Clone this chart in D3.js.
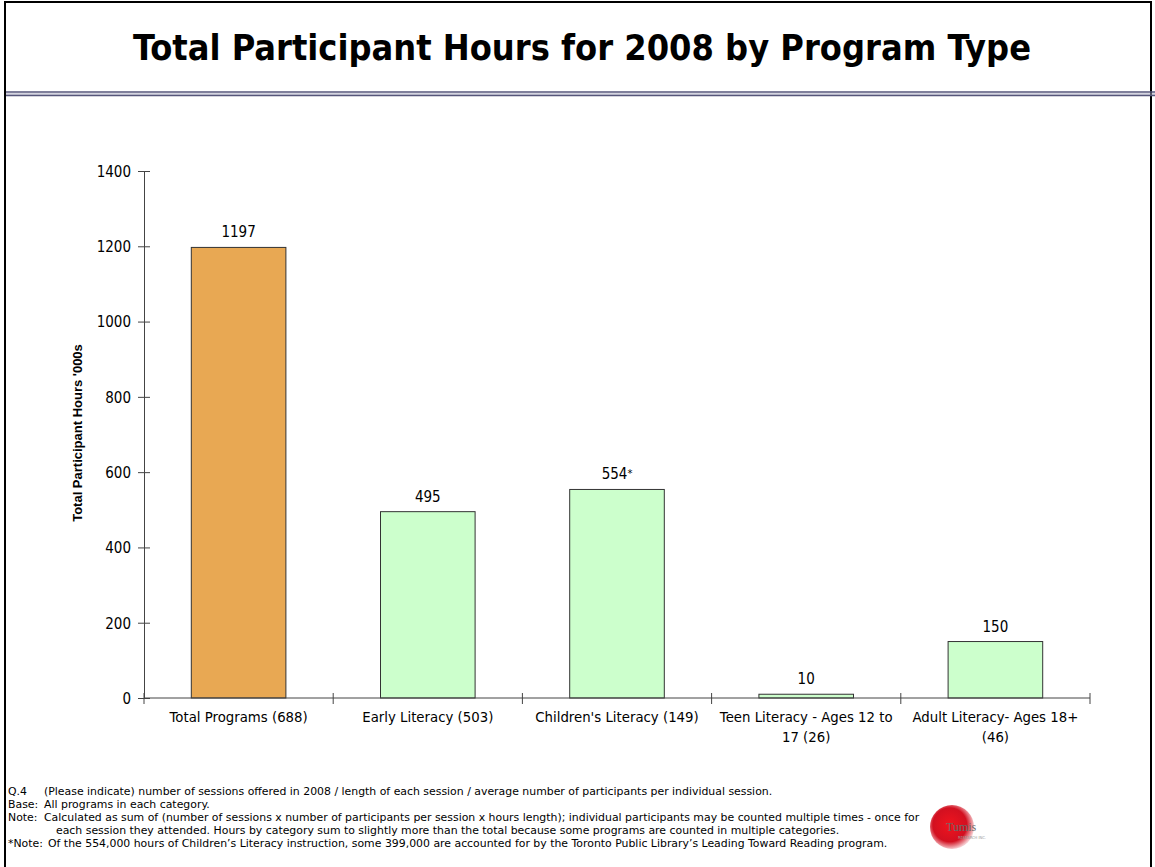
<!DOCTYPE html>
<html>
<head>
<meta charset="utf-8">
<script src="https://cdn.jsdelivr.net/npm/d3@7"></script>
<style>
  body { margin: 0; background: #fff; }
  text { font-family: "DejaVu Sans Condensed", "DejaVu Sans", sans-serif; }
</style>
</head>
<body>
<div id="vis"></div>
<script>
const categories = ['Total Programs (688)', 'Early Literacy (503)', "Children's Literacy (149)",
  'Teen Literacy - Ages 12 to|17 (26)', 'Adult Literacy-  Ages 18+|(46)'];
const values = [1197, 495, 554, 10, 150];
const valueLabels = ['1197', '495', '554', '10', '150'];
const valueMarks = ['', '', '*', '', ''];
const yTicks = [0, 200, 400, 600, 800, 1000, 1200, 1400];
const footLabels = ['Q.4', 'Base:', 'Note:', '', '*Note:'];
const footTexts = [
  '(Please indicate) number of sessions offered in 2008 / length of each session / average number of participants per individual session.',
  'All programs in each category.',
  'Calculated as sum of (number of sessions x number of participants per session x hours length); individual participants may be counted multiple times - once for',
  'each session they attended.  Hours by category sum to slightly more than the total because some programs are counted in multiple categories.',
  'Of the 554,000 hours of Children\u2019s Literacy instruction, some 399,000 are accounted for by the Toronto Public Library\u2019s Leading Toward Reading program.'
];

const W = 1155, H = 867;
const svg = d3.select('#vis').append('svg')
  .attr('width', W).attr('height', H);

// frame
svg.append('rect')
  .attr('x', 5).attr('y', 2).attr('width', W - 9).attr('height', H + 10)
  .attr('fill', 'none').attr('stroke', '#000').attr('stroke-width', 2);

// title
svg.append('text')
  .attr('x', 582).attr('y', 60)
  .attr('text-anchor', 'middle')
  .style('font-size', '35.8px').style('font-weight', 'bold')
  .text('Total Participant Hours for 2008 by Program Type');

// title rule (double line)
svg.append('line').attr('x1', 6).attr('x2', W).attr('y1', 92).attr('y2', 92)
  .attr('stroke', '#55557a').attr('stroke-width', 1.5);
svg.append('line').attr('x1', 6).attr('x2', W).attr('y1', 94).attr('y2', 94)
  .attr('stroke', '#a8a8c0').attr('stroke-width', 1);
svg.append('line').attr('x1', 6).attr('x2', W).attr('y1', 95.5).attr('y2', 95.5)
  .attr('stroke', '#55557a').attr('stroke-width', 1.5);

const plotLeft = 144, plotRight = 1090, plotTop = 171, plotBottom = 698;

const x = d3.scaleBand().domain(categories).range([plotLeft, plotRight]).paddingInner(0.5).paddingOuter(0.25);
const y = d3.scaleLinear().domain([0, 1400]).range([plotBottom, plotTop]);

// y axis
const yAxis = svg.append('g').attr('transform', `translate(${plotLeft},0)`)
  .call(d3.axisLeft(y).tickValues(yTicks).tickFormat(d3.format('d')).tickSize(6).tickSizeOuter(0));
yAxis.select('.domain').attr('stroke', '#444');
yAxis.selectAll('.tick line').attr('stroke', '#444').attr('x1', 6);
yAxis.selectAll('.tick text').attr('x', -13).attr('dy', '0.36em')
  .style('font-size', '15px').style('font-family', '"DejaVu Sans Condensed", "DejaVu Sans", sans-serif').attr('fill', '#000');

// bars
svg.selectAll('rect.bar')
  .data(values)
  .enter()
  .append('rect')
  .attr('class', 'bar')
  .attr('x', (d, i) => x(categories[i]))
  .attr('y', d => y(d))
  .attr('width', x.bandwidth())
  .attr('height', d => plotBottom - y(d))
  .attr('fill', (d, i) => i === 0 ? '#e8a853' : '#ccffcc')
  .attr('stroke', '#333')
  .attr('stroke-width', 1);

// value labels
svg.selectAll('text.val')
  .data(values)
  .enter()
  .append('text')
  .attr('class', 'val')
  .attr('x', (d, i) => x(categories[i]) + x.bandwidth() / 2)
  .attr('y', d => y(d) - 10)
  .attr('text-anchor', 'middle')
  .style('font-size', '15px')
  .each(function (d, i) {
    const t = d3.select(this);
    t.append('tspan').text(valueLabels[i]);
    if (valueMarks[i]) t.append('tspan').style('font-size', '11px').attr('dy', -2).text(valueMarks[i]);
  });

// x axis with category boundary ticks
const step = x.step();
const bounds = d3.range(categories.length + 1).map(i => plotLeft + i * step);
svg.append('line').attr('x1', plotLeft).attr('x2', plotRight).attr('y1', plotBottom).attr('y2', plotBottom)
  .attr('stroke', '#444');
svg.selectAll('line.xtick')
  .data(bounds)
  .enter()
  .append('line')
  .attr('class', 'xtick')
  .attr('x1', d => d).attr('x2', d => d)
  .attr('y1', plotBottom - 5).attr('y2', plotBottom + 6)
  .attr('stroke', '#444');

// category labels
svg.selectAll('text.cat')
  .data(categories)
  .enter()
  .append('text')
  .attr('class', 'cat')
  .attr('x', d => x(d) + x.bandwidth() / 2)
  .attr('y', 722)
  .attr('text-anchor', 'middle')
  .style('font-family', '"DejaVu Sans", sans-serif')
  .style('font-size', '13.3px')
  .each(function (d) {
    const parts = d.split('|');
    d3.select(this).selectAll('tspan')
      .data(parts)
      .enter()
      .append('tspan')
      .attr('x', x(d) + x.bandwidth() / 2)
      .attr('dy', (p, j) => j === 0 ? 0 : 20)
      .text(p => p);
  });

// y axis title
svg.append('text')
  .attr('transform', 'translate(82,433) rotate(-90)')
  .attr('text-anchor', 'middle')
  .style('font-family', '"Liberation Sans", Arial, sans-serif')
  .style('font-size', '13px').style('font-weight', 'bold')
  .text("Total Participant Hours '000s");

// footnotes
const foot = svg.append('g');
footLabels.forEach((lab, i) => {
  const yy = 795 + i * 13;
  foot.append('text').attr('x', 8).attr('y', yy).style('font-family', '"DejaVu Sans", sans-serif').style('font-size', '10.9px').text(lab);
  const tx = i === 3 ? 56 : (i === 4 ? 48 : 44);
  foot.append('text').attr('x', tx).attr('y', yy).style('font-family', '"DejaVu Sans", sans-serif').style('font-size', '10.9px').text(footTexts[i]);
});

// logo
const defs = svg.append('defs');
const grad = defs.append('radialGradient').attr('id', 'logoGrad').attr('cx', '45%').attr('cy', '45%').attr('r', '55%');
grad.append('stop').attr('offset', '0%').attr('stop-color', '#f0141e');
grad.append('stop').attr('offset', '70%').attr('stop-color', '#d21020');
grad.append('stop').attr('offset', '100%').attr('stop-color', '#f5c8cc');
svg.append('circle').attr('cx', 952).attr('cy', 827).attr('r', 22).attr('fill', 'url(#logoGrad)');
svg.append('text').attr('x', 946).attr('y', 831)
  .style('font-size', '12px').style('font-family', 'serif').attr('fill', '#6a6a6a').text('Tumis');
svg.append('text').attr('x', 958).attr('y', 839)
  .style('font-size', '4px').attr('fill', '#999').text('RESEARCH INC.');
</script>
</body>
</html>
